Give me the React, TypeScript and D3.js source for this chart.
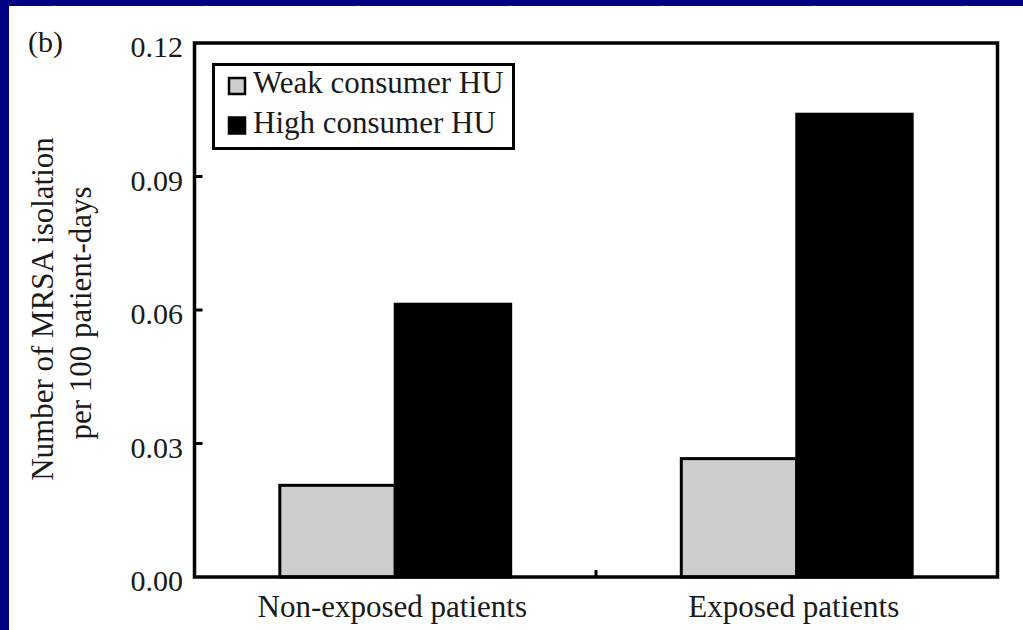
import React from "react";
import * as d3 from "d3";

const categories = ["Non-exposed patients", "Exposed patients"];
const seriesNames = ["Weak consumer HU", "High consumer HU"];
const weakValues = [0.0206, 0.0266];
const highValues = [0.0613, 0.104];
const yTicks = [0.0, 0.03, 0.06, 0.09, 0.12];
const seriesColors = ["#cdcdcd", "#000000"];

const W = 1023;
const H = 630;
const FONT = "'Liberation Serif', 'Times New Roman', serif";

export default function App() {
  const x0 = d3
    .scaleBand<string>()
    .domain(categories)
    .range([194.5, 997.5])
    .paddingInner(0.425)
    .paddingOuter(0.2125);
  const x1 = d3
    .scaleBand<string>()
    .domain(seriesNames)
    .range([0, x0.bandwidth()])
    .padding(0);
  const y = d3.scaleLinear().domain([0, 0.12]).range([577, 43]);
  const fmt = d3.format(".2f");
  const series = [weakValues, highValues];

  const left = 194.5;
  const right = 997.5;
  const top = y(0.12);
  const bottom = y(0);
  const mid = (x0(categories[0])! + x0.bandwidth() + x0(categories[1])!) / 2;

  return (
    <svg
      width={W}
      height={H}
      style={{ position: "fixed", left: 0, top: 0, display: "block" }}
      fontFamily={FONT}
    >
      <defs>
        <pattern id="diag" width="152" height="152" patternUnits="userSpaceOnUse">
          <line x1="40" y1="20" x2="55" y2="5" stroke="#4a5ab8" strokeWidth="1" />
        </pattern>
      </defs>
      <rect x={0} y={0} width={W} height={H} fill="#000080" />
      <rect x={0} y={0} width={W} height={H} fill="url(#diag)" />
      <rect x={9} y={6} width={W - 9} height={H - 6} fill="#ffffff" />

      {categories.map((c, i) => (
        <g key={c} transform={`translate(${x0(c)},0)`}>
          {seriesNames.map((s, j) => (
            <rect
              key={s}
              x={x1(s)}
              y={y(series[j][i])}
              width={x1.bandwidth()}
              height={y(0) - y(series[j][i])}
              fill={seriesColors[j]}
              stroke="#000"
              strokeWidth={3}
            />
          ))}
        </g>
      ))}

      <rect
        x={left}
        y={top}
        width={right - left}
        height={bottom - top}
        fill="none"
        stroke="#000"
        strokeWidth={3.5}
      />

      {yTicks.map((t) => (
        <g key={t}>
          {t > 0 && t < 0.12 && (
            <line x1={left} x2={left + 8} y1={y(t)} y2={y(t)} stroke="#000" strokeWidth={3} />
          )}
          <text x={183} y={y(t) + 14} textAnchor="end" fontSize={30} fill="#1a1a1a">
            {fmt(t)}
          </text>
        </g>
      ))}

      <line x1={mid} x2={mid} y1={bottom} y2={bottom - 7} stroke="#000" strokeWidth={3} />

      {categories.map((c) => (
        <text
          key={c}
          x={x0(c)! + x0.bandwidth() / 2 - 3}
          y={617}
          textAnchor="middle"
          fontSize={31}
          fill="#1a1a1a"
        >
          {c}
        </text>
      ))}

      <text transform={`translate(53,309) rotate(-90)`} textAnchor="middle" fontSize={31} fill="#1a1a1a">
        Number of MRSA isolation
      </text>
      <text transform={`translate(91,313) rotate(-90)`} textAnchor="middle" fontSize={31} fill="#1a1a1a">
        per 100 patient-days
      </text>

      <text x={28} y={52} fontSize={30} fill="#1a1a1a">
        (b)
      </text>

      <rect x={213.5} y={64.5} width={300} height={84} fill="#fff" stroke="#000" strokeWidth={3} />
      {seriesNames.map((s, j) => (
        <g key={s}>
          <rect
            x={229}
            y={78 + j * 39.5}
            width={16}
            height={16}
            fill={seriesColors[j]}
            stroke="#000"
            strokeWidth={2.5}
          />
          <text x={253} y={93 + j * 39.5} fontSize={31} fill="#1a1a1a">
            {s}
          </text>
        </g>
      ))}
    </svg>
  );
}
